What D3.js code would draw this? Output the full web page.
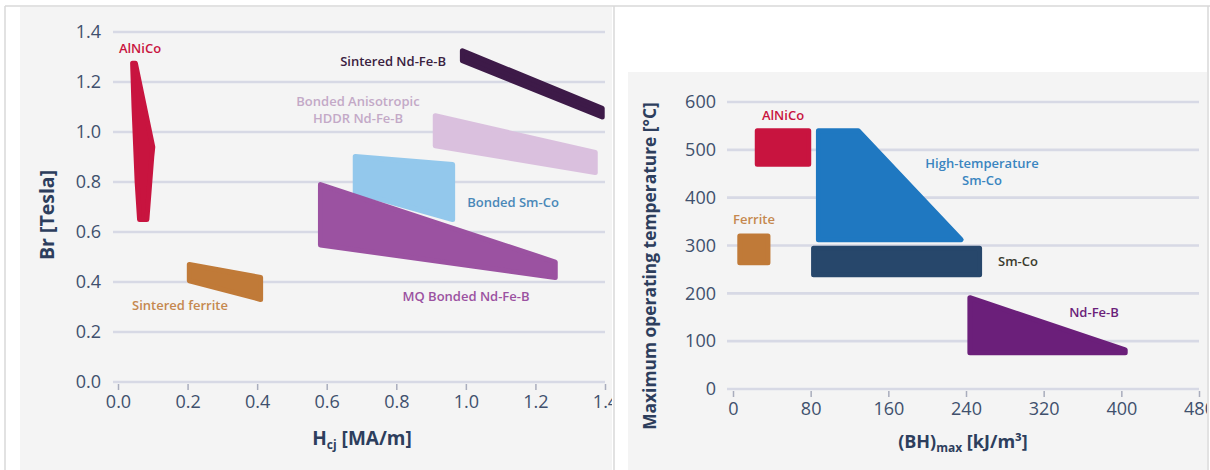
<!DOCTYPE html>
<html><head><meta charset="utf-8">
<script src="https://cdn.jsdelivr.net/npm/d3@7"></script>
<style>html,body{margin:0;padding:0;background:#fff;}svg{display:block;font-family:"Open Sans",sans-serif;}</style>
</head><body>
<svg id="c" width="1210" height="470"></svg>
<script>
// ---------- Left chart data: Hcj [MA/m] vs Br [Tesla] ----------
const leftXTicks = [0.0, 0.2, 0.4, 0.6, 0.8, 1.0, 1.2, 1.4];
const leftYTicks = [0.0, 0.2, 0.4, 0.6, 0.8, 1.0, 1.2, 1.4];
const leftNames = ["AlNiCo", "Sintered ferrite", "Sintered Nd-Fe-B", "Bonded Anisotropic HDDR Nd-Fe-B", "Bonded Sm-Co", "MQ Bonded Nd-Fe-B"];
const alnicoLeft = [[0.042,1.275],[0.050,1.275],[0.100,0.940],[0.097,0.900],[0.083,0.650],[0.062,0.650],[0.055,0.800],[0.046,1.100]];
const ferriteLeft = [[0.205,0.470],[0.410,0.418],[0.410,0.330],[0.205,0.405]];
const sinteredNdFeB = [[0.990,1.325],[1.392,1.095],[1.392,1.060],[0.990,1.285]];
const hddrNdFeB = [[0.912,1.065],[1.372,0.918],[1.372,0.838],[0.912,0.945]];
const bondedSmCo = [[0.682,0.902],[0.962,0.870],[0.962,0.650],[0.682,0.760]];
const mqNdFeB = [[0.582,0.790],[1.257,0.480],[1.257,0.418],[0.582,0.548]];
const leftColors = ["#c8143f", "#c07a38", "#3d1a48", "#dac0de", "#93c8ec", "#9b52a1"];

// ---------- Right chart data: (BH)max [kJ/m3] vs max temperature [°C] ----------
const rightXTicks = [0, 80, 160, 240, 320, 400, 480];
const rightYTicks = [0, 100, 200, 300, 400, 500, 600];
const rightNames = ["AlNiCo", "Ferrite", "High-temperature Sm-Co", "Sm-Co", "Nd-Fe-B"];
const alnicoRight = [[25,540],[78,540],[78,470],[25,470]];
const ferriteRight = [[7,320],[36,320],[36,264],[7,264]];
const htSmCo = [[88,540],[129,540],[235,312],[88,312]];
const smCo = [[83,294],[254,294],[254,239],[83,239]];
const ndFeB = [[244,191],[404,82],[404,76],[244,76]];
const rightColors = ["#c8143f", "#c07a38", "#1f78c1", "#27476b", "#6b1f7a"];

const svg = d3.select("#c");
const gridColor = "#d7d9e5", tickText = "#40506d", titleColor = "#2d3e5d";

// Panels
svg.append("rect").attr("x",20).attr("y",7).attr("width",592).attr("height",463).attr("fill","#f4f4f4");
svg.append("rect").attr("x",628).attr("y",72).attr("width",579).attr("height",398).attr("fill","#f4f4f4");
const border = "#d9d9d9";
[[5,6,1210,6],[5,6,5,470],[614,6,614,470],[1208,6,1208,470]].forEach(l=>{
  svg.append("line").attr("x1",l[0]).attr("y1",l[1]).attr("x2",l[2]).attr("y2",l[3]).attr("stroke",border).attr("stroke-width",1.5);
});
const defs = svg.append("defs");
defs.append("clipPath").attr("id","clipL").append("rect").attr("x",0).attr("y",0).attr("width",612).attr("height",470);
defs.append("clipPath").attr("id","clipR").append("rect").attr("x",615).attr("y",0).attr("width",592).attr("height",470);

function drawChart(opt){
  const g = svg.append("g").attr("clip-path", `url(#${opt.clip})`);
  const x = d3.scaleLinear().domain(opt.xDomain).range(opt.xRange);
  const y = d3.scaleLinear().domain(opt.yDomain).range(opt.yRange);
  // gridlines
  g.append("g").selectAll("line").data(opt.yTicks).join("line")
    .attr("x1", opt.gridX0).attr("x2", x(opt.xDomain[1]))
    .attr("y1", d=>y(d)).attr("y2", d=>y(d))
    .attr("stroke", gridColor).attr("stroke-width", 2.6);
  // y axis labels
  const yAxis = d3.axisLeft(y).tickValues(opt.yTicks).tickFormat(opt.yFmt).tickSize(0).tickPadding(0);
  const ya = g.append("g").attr("transform", `translate(${opt.yLabelX},0)`).call(yAxis);
  ya.select(".domain").remove();
  ya.selectAll("text").attr("fill", tickText).style("font-size","18px").style("font-family","'Open Sans',sans-serif");
  // x axis
  const xAxis = d3.axisBottom(x).tickValues(opt.xTicks).tickFormat(opt.xFmt).tickSize(6).tickPadding(5);
  const xa = g.append("g").attr("transform", `translate(0,${y(0)+2})`).call(xAxis);
  xa.select(".domain").remove();
  xa.selectAll("line").attr("stroke","#a9adbd").attr("stroke-width",1.5);
  xa.selectAll("text").attr("fill", tickText).style("font-size","18px").style("font-family","'Open Sans',sans-serif");
  // shapes
  const line = d3.line().x(d=>x(d[0])).y(d=>y(d[1])).curve(d3.curveLinearClosed);
  opt.shapes.forEach((s,i)=>{
    g.append("path").attr("d", line(s)).attr("fill", opt.colors[i]).attr("stroke", opt.colors[i])
      .attr("stroke-width", 5).attr("stroke-linejoin","round");
  });
  return {x,y,g};
}

const L = drawChart({clip:"clipL", xDomain:[0,1.4], xRange:[118,605], yDomain:[0,1.4], yRange:[382,32],
  xTicks:leftXTicks, yTicks:leftYTicks, xFmt:d3.format(".1f"), yFmt:d3.format(".1f"), gridX0:113, yLabelX:101,
  shapes:[alnicoLeft, ferriteLeft, sinteredNdFeB, hddrNdFeB, bondedSmCo, mqNdFeB], colors:leftColors});

const R = drawChart({clip:"clipR", xDomain:[0,480], xRange:[733,1199], yDomain:[0,600], yRange:[389,102],
  xTicks:rightXTicks, yTicks:rightYTicks, xFmt:d3.format("d"), yFmt:d3.format("d"), gridX0:727, yLabelX:716,
  shapes:[alnicoRight, ferriteRight, htSmCo, smCo, ndFeB], colors:rightColors});

// Series labels
function label(txtLines, px, py, color, anchor){
  const t = svg.append("text").attr("x",px).attr("y",py).attr("fill",color).attr("text-anchor",anchor||"middle")
    .style("font-size","13px").style("font-weight","600");
  txtLines.forEach((s,i)=>t.append("tspan").attr("x",px).attr("dy", i===0?0:17).text(s));
}
label(["AlNiCo"], 140, 53, "#c8143f");
label(["Sintered Nd-Fe-B"], 446, 66, "#3a2140", "end");
label(["Bonded Anisotropic","HDDR Nd-Fe-B"], 358, 106, "#c3a9c7");
label(["Bonded Sm-Co"], 513, 207, "#4a88b8");
label(["Sintered ferrite"], 180, 310, "#c5884f");
label(["MQ Bonded Nd-Fe-B"], 466, 301, "#9b52a1");

label(["AlNiCo"], 783, 120, "#c8143f");
label(["Ferrite"], 754, 224, "#c5884f");
label(["High-temperature","Sm-Co"], 982, 168, "#3a85c0");
label(["Sm-Co"], 998, 266, "#3b3b2e", "start");
label(["Nd-Fe-B"], 1094, 317, "#6b1f7a");

// Axis titles
svg.append("text").attr("transform","translate(54,215) rotate(-90)").attr("text-anchor","middle")
  .attr("fill",titleColor).style("font-size","19.5px").style("font-weight","700").text("Br [Tesla]");
const xt = svg.append("text").attr("x",362).attr("y",445).attr("text-anchor","middle")
  .attr("fill",titleColor).style("font-size","19px").style("font-weight","700");
xt.append("tspan").text("H");
xt.append("tspan").attr("dy",4).style("font-size","12px").text("cj");
xt.append("tspan").attr("dy",-4).text(" [MA/m]");

svg.append("text").attr("transform","translate(656,266) rotate(-90)").attr("text-anchor","middle")
  .attr("fill",titleColor).style("font-size","17.4px").style("font-weight","700").text("Maximum operating temperature [°C]");
const xt2 = svg.append("text").attr("x",963).attr("y",448).attr("text-anchor","middle")
  .attr("fill",titleColor).style("font-size","18px").style("font-weight","700");
xt2.append("tspan").text("(BH)");
xt2.append("tspan").attr("dy",4).style("font-size","12px").text("max");
xt2.append("tspan").attr("dy",-4).text(" [kJ/m³]");
</script>
</body></html>
